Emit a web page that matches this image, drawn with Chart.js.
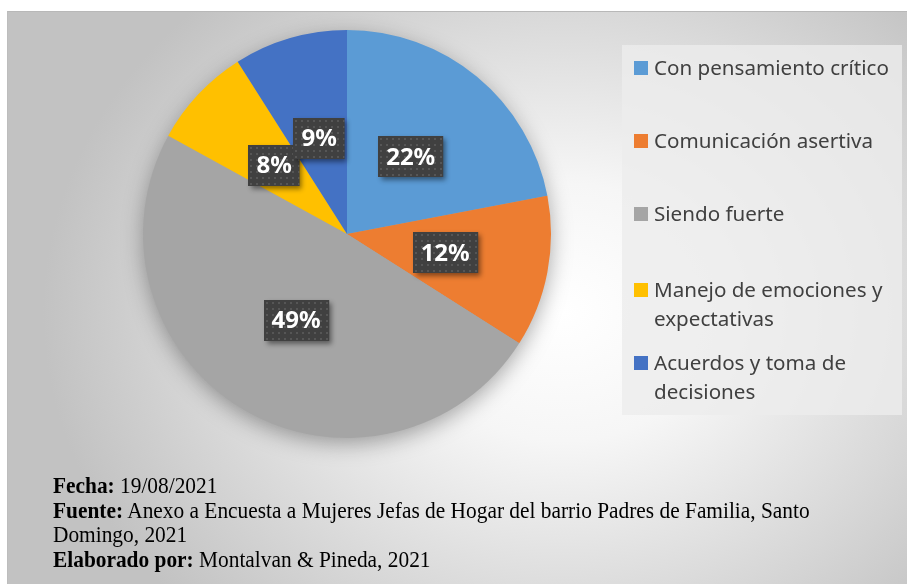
<!doctype html>
<html>
<head>
<meta charset="UTF-8" />
<title>Habilidades</title>
<script src="https://cdn.jsdelivr.net/npm/chart.js"></script>
<style>
    body { margin: 0; width: 907px; height: 584px; overflow: hidden; background: #fff; font-family: "Noto Sans", sans-serif; }
    #frame {
        position: absolute; left: 7px; top: 11px; width: 900px; height: 573px;
        border-top: 1px solid #b8b8b8; border-left: 1px solid #bdbdbd;
        background: radial-gradient(ellipse 520px 430px at 555px 300px, #ffffff 0%, #f6f6f6 30%, #c2c2c2 100%);
    }
    #chartBox { position: absolute; left: 0; top: 0; width: 907px; height: 584px; }
    #legend {
        position: absolute; left: 622px; top: 45px; width: 280px; height: 370px;
        background: rgba(236, 236, 236, 0.8);
    }
    .item { position: absolute; left: 12px; width: 266px; color: #404040; font-size: 20.6px; line-height: 29px; }
    .item .sw { position: absolute; left: 0; top: 8px; width: 14px; height: 14px; }
    .item .tx { margin-left: 20px; display: block; }
    #footer { position: absolute; left: 53px; top: 474px; font-family: "Liberation Serif", serif; font-size: 22.5px; line-height: 24.5px; color: #000; transform-origin: 0 0; white-space: nowrap; }
</style>
</head>
<body>
<div id="frame"></div>
<div id="chartBox"><canvas id="myChart" width="907" height="584"></canvas></div>
<div id="legend"></div>
<div id="footer">
    <div><b>Fecha:</b> 19/08/2021</div>
    <div id="fuente"><b>Fuente:</b> Anexo a Encuesta a Mujeres Jefas de Hogar del barrio Padres de Familia, Santo</div>
    <div>Domingo, 2021</div>
    <div><b>Elaborado por:</b> Montalvan &amp; Pineda, 2021</div>
</div>

<script>
// datos del grafico
var categorias = ['Con pensamiento crítico', 'Comunicación asertiva', 'Siendo fuerte', 'Manejo de emociones y expectativas', 'Acuerdos y toma de decisiones'];
var porcentajes = [22, 12, 49, 8, 9];
var colores = ['#5B9BD5', '#ED7D31', '#A5A5A5', '#FFC000', '#4472C4'];

// posiciones verticales de la leyenda (estilo Excel)
var legendTops = [8, 81, 154, 230, 303];

// leyenda en html
var legend = document.getElementById('legend');
categorias.forEach(function (c, i) {
    var d = document.createElement('div');
    d.className = 'item';
    d.style.top = legendTops[i] + 'px';
    d.innerHTML = '<span class="sw" style="background:' + colores[i] + '"></span><span class="tx">' + c + '</span>';
    legend.appendChild(d);
});

// el pie de la fuente viene algo comprimido
var fuente = document.getElementById('fuente');
var sx = 757 / fuente.scrollWidth;
document.getElementById('footer').style.transform = 'scaleX(' + sx + ')';

// patron punteado de las etiquetas
var pat = document.createElement('canvas');
pat.width = 6; pat.height = 6;
var pctx = pat.getContext('2d');
pctx.fillStyle = '#404040';
pctx.fillRect(0, 0, 6, 6);
pctx.fillStyle = '#565656';
pctx.fillRect(2, 2, 2, 2);

var sombraPie = {
    id: 'sombraPie',
    beforeDatasetsDraw: function (chart) {
        var arc = chart.getDatasetMeta(0).data[0];
        if (!arc) return;
        var p = arc.getProps(['x', 'y', 'outerRadius'], true);
        var ctx = chart.ctx;
        ctx.save();
        ctx.shadowColor = 'rgba(0,0,0,0.35)';
        ctx.shadowBlur = 22;
        ctx.shadowOffsetY = 6;
        ctx.fillStyle = '#a5a5a5';
        ctx.beginPath();
        ctx.arc(p.x, p.y, p.outerRadius - 1, 0, Math.PI * 2);
        ctx.fill();
        ctx.restore();
    }
};

var etiquetas = {
    id: 'etiquetas',
    afterDatasetsDraw: function (chart) {
        var ctx = chart.ctx;
        var meta = chart.getDatasetMeta(0);
        ctx.save();
        ctx.font = 'bold 24px "Noto Sans"';
        ctx.textAlign = 'center';
        ctx.textBaseline = 'middle';
        meta.data.forEach(function (arc, i) {
            var p = arc.getProps(['x', 'y', 'startAngle', 'endAngle', 'outerRadius'], true);
            var mid = (p.startAngle + p.endAngle) / 2;
            var cx = p.x + Math.cos(mid) * p.outerRadius * 0.49;
            var cy = p.y + Math.sin(mid) * p.outerRadius * 0.49;
            var txt = porcentajes[i] + '%';
            var w = ctx.measureText(txt).width + 16;
            var h = 41;
            var x0 = Math.round(cx - w / 2), y0 = Math.round(cy - h / 2);
            ctx.save();
            ctx.shadowColor = 'rgba(0,0,0,0.45)';
            ctx.shadowBlur = 5;
            ctx.shadowOffsetX = 3;
            ctx.shadowOffsetY = 3;
            ctx.fillStyle = '#404040';
            ctx.fillRect(x0, y0, w, h);
            ctx.restore();
            ctx.save();
            ctx.translate(x0, y0);
            ctx.fillStyle = ctx.createPattern(pat, 'repeat');
            ctx.fillRect(0, 0, w, h);
            ctx.restore();
            ctx.fillStyle = '#ffffff';
            ctx.fillText(txt, cx, cy + 1);
        });
        ctx.restore();
    }
};

var ctx = document.getElementById('myChart').getContext('2d');
var myChart = new Chart(ctx, {
    type: 'pie',
    data: {
        labels: categorias,
        datasets: [{
            data: porcentajes,
            backgroundColor: colores,
            borderWidth: 0,
            hoverOffset: 0
        }]
    },
    options: {
        responsive: false,
        animation: false,
        layout: { padding: { left: 143, top: 30, right: 356, bottom: 146 } },
        plugins: {
            legend: { display: false },
            tooltip: { enabled: false }
        }
    },
    plugins: [sombraPie, etiquetas]
});
</script>
</body>
</html>
